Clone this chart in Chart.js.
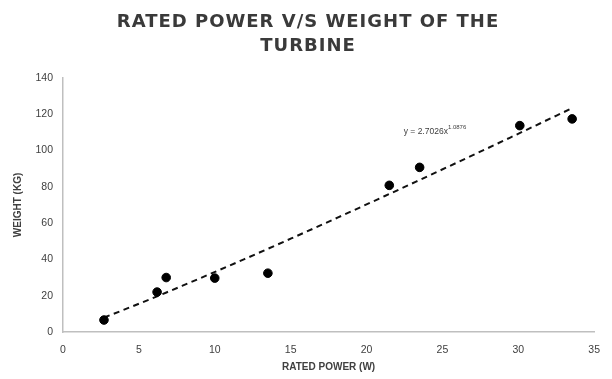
<!DOCTYPE html>
<html>
<head>
<meta charset="utf-8">
<title>Rated power vs weight</title>
<script src="https://cdn.jsdelivr.net/npm/chart.js@4/dist/chart.umd.min.js"></script>
<style>
  html, body { margin: 0; padding: 0; background: #fff; }
  #wrap { width: 612px; height: 379px; }
</style>
</head>
<body>
<div id="wrap"><canvas id="powerChart" width="612" height="379"></canvas></div>
<script>
// measured turbines: rated power (W) and weight (kg)
const ratedPower = [2.7, 6.2, 6.8, 10.0, 13.5, 21.5, 23.5, 30.1, 33.55];
const weightKg = [6.6, 22, 30, 29.7, 32.4, 80.8, 90.7, 113.7, 117.4];

// power trendline y = a * x^b
const fitA = 2.7026;
const fitB = 1.0876;
const fitFrom = 2.7;
const fitTo = 33.55;

const xTicks = [0, 5, 10, 15, 20, 25, 30, 35];
const yTicks = [0, 20, 40, 60, 80, 100, 120, 140];

const points = ratedPower.map((x, i) => ({ x, y: weightKg[i] }));

const trend = [];
for (let i = 0; i <= 30; i++) {
  const x = fitFrom + (fitTo - fitFrom) * i / 30;
  trend.push({ x, y: fitA * Math.pow(x, fitB) });
}

const axisGrey = "#bfbfbf";
const textGrey = "#404040";
const labelFont = "'Liberation Sans', sans-serif";

// equation label next to the trendline
const equationLabel = {
  id: "equationLabel",
  afterDatasetsDraw(chart) {
    const { ctx, scales } = chart;
    const px = scales.x.getPixelForValue(22.45);
    const py = scales.y.getPixelForValue(110.6);
    ctx.save();
    ctx.fillStyle = textGrey;
    ctx.textBaseline = "middle";
    ctx.font = "8.5px " + labelFont;
    const base = "y = " + fitA + "x";
    ctx.fillText(base, px, py);
    const w = ctx.measureText(base).width;
    ctx.font = "6px " + labelFont;
    ctx.fillText(String(fitB), px + w, py - 3.5);
    ctx.restore();
  },
};

// spread the title letters a little and nudge it right
const titleSpacing = {
  id: "titleSpacing",
  afterLayout(chart) {
    const block = chart.titleBlock;
    if (!block || block._spaced) return;
    const draw = block.draw;
    block.draw = function (...args) {
      const ctx = chart.ctx;
      ctx.save();
      ctx.letterSpacing = "1px";
      ctx.translate(10, 0);
      draw.apply(this, args);
      ctx.restore();
    };
    block._spaced = true;
  },
};

new Chart(document.getElementById("powerChart"), {
  type: "scatter",
  data: {
    datasets: [
      {
        label: "Weight",
        data: points,
        backgroundColor: "#000",
        borderColor: "#000",
        pointRadius: 4.3,
        order: 1,
      },
      {
        label: "Power fit",
        type: "line",
        data: trend,
        borderColor: "#111",
        borderWidth: 2,
        borderDash: [6, 4.5],
        pointRadius: 0,
        fill: false,
        tension: 0,
        order: 2,
      },
    ],
  },
  options: {
    responsive: false,
    animation: false,
    layout: { padding: { left: 0, right: 16, top: 0, bottom: 0 } },
    plugins: {
      legend: { display: false },
      tooltip: { enabled: false },
      title: {
        display: true,
        text: ["RATED POWER V/S WEIGHT OF THE", "TURBINE"],
        color: "#3a3a3a",
        font: { family: "'DejaVu Sans', sans-serif", size: 18, weight: "bold", lineHeight: 1.33 },
        padding: { top: 10, bottom: 20 },
      },
    },
    scales: {
      x: {
        type: "linear",
        min: 0,
        max: 35,
        afterBuildTicks: (s) => { s.ticks = xTicks.map((v) => ({ value: v })); },
        afterFit: (s) => { s.height = 47; },
        grid: { display: false, drawTicks: false },
        border: { color: axisGrey, width: 1.5 },
        ticks: { color: textGrey, padding: 12, font: { size: 10.5, family: labelFont } },
        title: {
          display: true,
          text: "RATED POWER (W)",
          color: textGrey,
          font: { size: 10, weight: "bold", family: labelFont },
          padding: { top: 0, bottom: 6 },
        },
      },
      y: {
        type: "linear",
        min: 0,
        max: 140,
        afterBuildTicks: (s) => { s.ticks = yTicks.map((v) => ({ value: v })); },
        afterFit: (s) => { s.width = 63; },
        grid: { display: false, drawTicks: false },
        border: { color: axisGrey, width: 1.5 },
        ticks: { color: textGrey, padding: 10, font: { size: 10.5, family: labelFont } },
        title: {
          display: true,
          text: "WEIGHT (KG)",
          color: textGrey,
          font: { size: 10, weight: "bold", family: labelFont },
          padding: { top: 12, bottom: 0 },
        },
      },
    },
  },
  plugins: [equationLabel, titleSpacing],
});
</script>
</body>
</html>
